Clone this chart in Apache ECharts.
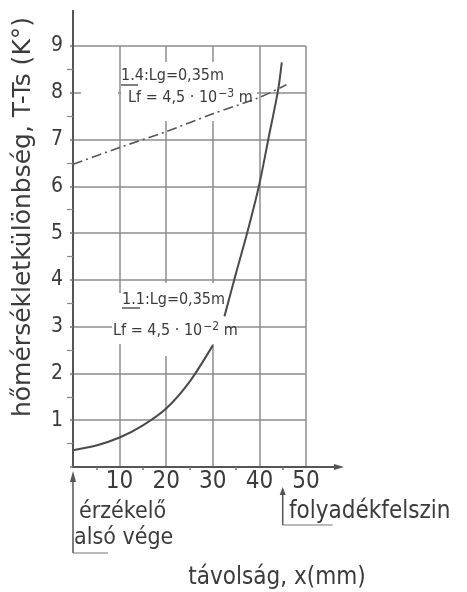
<!DOCTYPE html>
<html>
<head>
<meta charset="utf-8">
<script src="https://cdn.jsdelivr.net/npm/echarts@6/dist/echarts.min.js"></script>
<style>
  html, body { margin: 0; padding: 0; background: #ffffff; }
  #chart { width: 467px; height: 592px; }
</style>
</head>
<body>
<div id="chart"></div>
<script>
// Axis ticks
const xTicks = [0, 10, 20, 30, 40, 50];
const yTicks = [0, 1, 2, 3, 4, 5, 6, 7, 8, 9];

// Curve 1.1 (Lg = 0,35 m, Lf = 4,5·10^-2 m), split where its label sits
const curve11LowX = [0, 5, 10, 15, 20, 25, 30];
const curve11LowY = [0.36, 0.46, 0.63, 0.89, 1.25, 1.82, 2.6];
const curve11HighX = [32.5, 35, 37.5, 40, 42, 44, 44.8];
const curve11HighY = [3.22, 4.15, 5.05, 6.05, 7.05, 8.05, 8.65];

// Curve 1.4 (Lg = 0,35 m, Lf = 4,5·10^-3 m)
const curve14X = [0, 10, 20, 30, 40, 45.8];
const curve14Y = [6.47, 6.83, 7.17, 7.55, 7.9, 8.17];

// Marked positions on the distance axis (mm)
const sensorEndX = 0;      // lower end of the sensor
const liquidSurfaceX = 45; // liquid surface

const FONT = '"DejaVu Sans Condensed", "Liberation Sans Narrow", sans-serif';
const FONT_WIDE = '"DejaVu Sans", "Liberation Sans", sans-serif';
const INK = '#3b3b3b';
const GRIDC = '#8c8c8c';

const zip = (xs, ys) => xs.map((x, i) => [x, ys[i]]);

const chart = echarts.init(document.getElementById('chart'), null, { renderer: 'canvas' });

chart.setOption({
  backgroundColor: '#ffffff',
  animation: false,
  grid: { left: 73, right: 161, top: 46, bottom: 125 },
  xAxis: {
    type: 'value',
    min: xTicks[0], max: xTicks[xTicks.length - 1], interval: 10,
    axisLine: { show: true, onZero: false, lineStyle: { color: '#555', width: 2 } },
    axisTick: { show: false },
    minorTick: { show: true, splitNumber: 2, length: 3, lineStyle: { color: '#777', width: 1.5 } },
    axisLabel: {
      color: INK, fontSize: 24, fontFamily: FONT, margin: 3,
      formatter: v => (xTicks.includes(v) && v !== 0 ? String(v) : '')
    },
    splitLine: { show: true, lineStyle: { color: GRIDC, width: 1.5 } }
  },
  yAxis: {
    type: 'value',
    min: yTicks[0], max: yTicks[yTicks.length - 1], interval: 1,
    axisLine: { show: true, onZero: false, lineStyle: { color: '#555', width: 2 } },
    axisTick: { show: true, length: 3, lineStyle: { color: '#777', width: 1.5 } },
    minorTick: { show: true, splitNumber: 2, length: 6, lineStyle: { color: '#888', width: 1.2 } },
    axisLabel: {
      color: INK, fontSize: 21, fontFamily: FONT, margin: 10,
      formatter: v => (yTicks.includes(v) && v !== 0 ? String(v) : '')
    },
    splitLine: { show: true, lineStyle: { color: GRIDC, width: 1.5 } }
  },
  series: [
    {
      name: '1.1 low', type: 'line', data: zip(curve11LowX, curve11LowY),
      smooth: 0.3, showSymbol: false, z: 3,
      lineStyle: { color: '#4a4a4a', width: 2 }
    },
    {
      name: '1.1 high', type: 'line', data: zip(curve11HighX, curve11HighY),
      smooth: 0.3, showSymbol: false, z: 3,
      lineStyle: { color: '#4a4a4a', width: 2 }
    },
    {
      name: '1.4', type: 'line', data: zip(curve14X, curve14Y),
      smooth: 0.3, showSymbol: false, z: 3,
      lineStyle: { color: '#555', width: 1.6, type: [10, 4, 2, 4] }
    }
  ]
});

// Decorations: axis extensions, arrows, label patches and texts
const px = (x, y) => chart.convertToPixel({ gridIndex: 0 }, [x, y]);
const o = px(0, 0);
const top9 = px(0, 9);
const right50 = px(50, 0);
const sensorPx = px(sensorEndX, 0)[0];
const surfacePx = px(liquidSurfaceX, 0)[0];

const white = (x, y, w, h) => ({ type: 'rect', z: 1, shape: { x, y, width: w, height: h }, style: { fill: '#ffffff' }, silent: true });
const seg = (x1, y1, x2, y2, w, c) => ({ type: 'line', z: 4, shape: { x1, y1, x2, y2 }, style: { stroke: c || '#555', lineWidth: w || 1.5 }, silent: true });
const tri = (pts) => ({ type: 'polygon', z: 4, shape: { points: pts }, style: { fill: '#555' }, silent: true });
const txt = (x, y, text, size, extra, family) => ({
  type: 'text', z: 5, x, y,
  style: Object.assign({ text, fill: INK, font: `${size}px ${family || FONT}`, textVerticalAlign: 'middle', textAlign: 'left' }, extra || {})
});

const richLf = (x, y, exp) => ({
  type: 'text', z: 5, x, y,
  style: {
    text: `{n|Lf = 4,5 · 10}{s|${exp}}{n| m}`,
    textVerticalAlign: 'middle', textAlign: 'left',
    rich: {
      n: { fontSize: 16, fontFamily: FONT, fill: INK, color: INK },
      s: { fontSize: 12, fontFamily: FONT, fill: INK, color: INK, padding: [0, 0, 9, 1] }
    }
  }
});

chart.setOption({
  graphic: [
    // white patches where the hand lettering interrupts the grid
    white(121, 62, 136, 59),
    white(81, 90, 37, 6),
    white(112, 293, 115, 51),
    white(162, 283, 8, 73),
    white(209, 283, 8, 56),

    // axis extensions
    seg(o[0], top9[1], o[0], top9[1] - 36, 2),
    seg(right50[0], o[1], right50[0] + 32, o[1], 2),
    tri([[right50[0] + 38, o[1]], [right50[0] + 28, o[1] - 3], [right50[0] + 28, o[1] + 3]]),

    // curve labels
    txt(121, 76, '1.4:Lg=0,35m', 16),
    seg(121, 85, 138, 85, 1.3, INK),
    richLf(128, 98, '−3'),
    txt(122, 300, '1.1:Lg=0,35m', 16),
    seg(122, 308, 140, 308, 1.3, INK),
    richLf(113, 331, '−2'),

    // sensor lower end marker
    tri([[sensorPx, o[1] + 4], [sensorPx - 3, o[1] + 15], [sensorPx + 3, o[1] + 15]]),
    seg(sensorPx, o[1] + 12, sensorPx, 553, 1.5),
    seg(sensorPx, 553, sensorPx + 35, 553, 1.2, '#777'),
    txt(79, 512, 'érzékelő', 23),
    txt(74, 538, 'alsó vége', 23),

    // liquid surface marker
    tri([[surfacePx, o[1] + 20], [surfacePx - 3, o[1] + 28], [surfacePx + 3, o[1] + 28]]),
    seg(surfacePx, o[1] + 26, surfacePx, 525, 1.5),
    seg(surfacePx, 525, surfacePx + 50, 525, 1.2, '#777'),
    txt(289, 512, 'folyadékfelszin', 24),

    // axis titles
    txt(277, 578, 'távolság, x(mm)', 24, { textAlign: 'center' }),
    {
      type: 'text', z: 5, x: 23, y: 217, rotation: Math.PI / 2,
      style: { text: 'hőmérsékletkülönbség, T-Ts (K°)', fill: INK, font: `25px ${FONT_WIDE}`, textAlign: 'center', textVerticalAlign: 'middle' }
    }
  ]
});
</script>
</body>
</html>
